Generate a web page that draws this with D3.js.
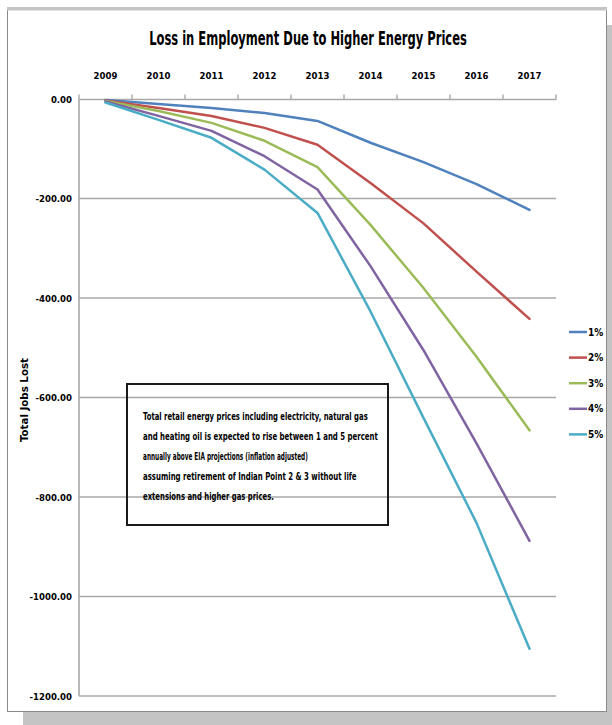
<!DOCTYPE html>
<html>
<head>
<meta charset="utf-8">
<script src="https://cdn.jsdelivr.net/npm/d3@7"></script>
<style>
  html, body { margin: 0; padding: 0; background: #ffffff; }
  svg { display: block; }
  text { font-family: "Liberation Sans Narrow", "DejaVu Sans Condensed", "Arial Narrow", sans-serif; font-weight: bold; fill: #000; }
</style>
</head>
<body>
<svg id="chart" width="612" height="725"></svg>
<script>
// Job losses by year for each rate of energy price increase above projections
const years = ["2009", "2010", "2011", "2012", "2013", "2014", "2015", "2016", "2017"];
const rise1 = [-2, -10, -18, -28, -44, -88, -127, -171, -223];
const rise2 = [-3, -18, -34, -58, -92, -169, -250, -347, -442];
const rise3 = [-4, -24, -48, -84, -137, -253, -380, -518, -666];
const rise4 = [-5, -34, -64, -115, -182, -336, -505, -692, -888];
const rise5 = [-7, -42, -78, -142, -229, -427, -641, -852, -1105];
const seriesNames = ["1%", "2%", "3%", "4%", "5%"];
const seriesColors = ["#4F81BD", "#C0504D", "#9BBB59", "#8064A2", "#4BACC6"];
const yTicks = [0, -200, -400, -600, -800, -1000, -1200];

const titleText = "Loss in Employment Due to Higher Energy Prices";
const yTitle = "Total Jobs Lost";
const noteLines = [
  "Total retail energy prices including electricity, natural gas",
  "and heating oil is expected to rise between 1 and 5 percent",
  "annually above EIA projections (inflation adjusted)",
  "assuming retirement of Indian Point 2 & 3 without life",
  "extensions and higher gas prices."
];

const series = [rise1, rise2, rise3, rise4, rise5].map((vals, i) => ({
  name: seriesNames[i], color: seriesColors[i],
  points: years.map((yr, j) => ({ year: yr, value: vals[j] }))
}));

const svg = d3.select("#chart");

// Chart frame with a soft drop shadow
svg.append("rect").attr("x", 607).attr("y", 25).attr("width", 5).attr("height", 700).attr("fill", "#c4c4c4");
svg.append("rect").attr("x", 23).attr("y", 712).attr("width", 589).attr("height", 13).attr("fill", "#c4c4c4");
svg.append("rect").attr("x", 7.5).attr("y", 9.5).attr("width", 599).attr("height", 702)
  .attr("fill", "#ffffff").attr("stroke", "#8a8a8a").attr("stroke-width", 1);
svg.append("rect").attr("x", 7).attr("y", 7).attr("width", 600).attr("height", 3.5).attr("fill", "#c4c4c4");

// Scales
const x = d3.scaleBand().domain(years).range([79, 556]);
const y = d3.scaleLinear().domain([-1200, 0]).range([696, 99]);
const cx = d => x(d) + x.bandwidth() / 2;

// Number format with a plain hyphen for negatives
const fmt = d3.formatLocale({ decimal: ".", thousands: ",", grouping: [3], currency: ["$", ""], minus: "-" }).format(".2f");

// Horizontal gridlines
svg.append("g").selectAll("line")
  .data(yTicks.filter(t => t !== 0))
  .join("line")
  .attr("x1", 79).attr("x2", 556)
  .attr("y1", d => y(d)).attr("y2", d => y(d))
  .attr("stroke", "#a8a8a8").attr("stroke-width", 1.6);

// Vertical axis line
svg.append("line").attr("x1", 79).attr("x2", 79).attr("y1", y(0)).attr("y2", y(-1200))
  .attr("stroke", "#a8a8a8").attr("stroke-width", 1.6);

// Category axis along the zero line, labels on top
const xAxis = svg.append("g").attr("transform", `translate(0,${y(0)})`)
  .call(d3.axisTop(x).tickSize(0).tickSizeOuter(0).tickPadding(20));
xAxis.select(".domain").attr("stroke", "#a8a8a8").attr("stroke-width", 1.6);
xAxis.selectAll("text").attr("font-size", 9.5).style("font-family", null);

// Tick marks at the category boundaries
const bounds = years.map(d => x(d)).concat([x.range()[1]]);
svg.append("g").selectAll("line").data(bounds).join("line")
  .attr("x1", d => d).attr("x2", d => d)
  .attr("y1", y(0) - 4.5).attr("y2", y(0))
  .attr("stroke", "#a8a8a8").attr("stroke-width", 1.4);

// Value axis labels
const yAxis = svg.append("g").attr("transform", "translate(79,0)")
  .call(d3.axisLeft(y).tickValues(yTicks).tickFormat(fmt).tickSize(0).tickPadding(7));
yAxis.select(".domain").remove();
yAxis.selectAll("text").attr("font-size", 9.5).style("font-family", null);

// Series lines
const line = d3.line().x(d => cx(d.year)).y(d => y(d.value));
svg.append("g").selectAll("path").data(series).join("path")
  .attr("d", d => line(d.points))
  .attr("fill", "none")
  .attr("stroke", d => d.color)
  .attr("stroke-width", 2.5)
  .attr("stroke-linejoin", "round")
  .attr("stroke-linecap", "round");

// Narrow a text horizontally (keeping its glyph height) so it spans a given width
function fitWidth(g, textSel, width, tx, ty) {
  const w = textSel.node().getComputedTextLength();
  const k = w > 0 ? Math.min(1.1, width / w) : 1;
  g.attr("transform", `translate(${tx},${ty}) scale(${k},1)`);
}

// Title
const titleG = svg.append("g");
const title = titleG.append("text").attr("text-anchor", "middle").attr("font-size", 20).text(titleText);
fitWidth(titleG, title, 318, 308, 45);

// Vertical axis title
svg.append("text").attr("transform", "translate(28,400) rotate(-90)")
  .attr("text-anchor", "middle").attr("font-size", 10)
  .attr("textLength", 84).attr("lengthAdjust", "spacingAndGlyphs")
  .text(yTitle);

// Legend
const legend = svg.append("g").selectAll("g").data(series).join("g")
  .attr("transform", (d, i) => `translate(569,${332 + i * 25.6})`);
legend.append("line").attr("x1", 0).attr("x2", 18).attr("y1", 0).attr("y2", 0)
  .attr("stroke", d => d.color).attr("stroke-width", 2.5);
legend.append("text").attr("x", 19).attr("y", 3.5).attr("font-size", 10)
  .text(d => d.name);

// Explanatory note box
svg.append("rect").attr("x", 127).attr("y", 384).attr("width", 261).attr("height", 141)
  .attr("fill", "none").attr("stroke", "#1a1a1a").attr("stroke-width", 2);
const noteWidths = [225, 235, 165, 214, 131];
noteLines.forEach((txt, i) => {
  const g = svg.append("g");
  const t = g.append("text").attr("font-size", 10.5).text(txt);
  fitWidth(g, t, noteWidths[i], 143, 420 + i * 20);
});
</script>
</body>
</html>
